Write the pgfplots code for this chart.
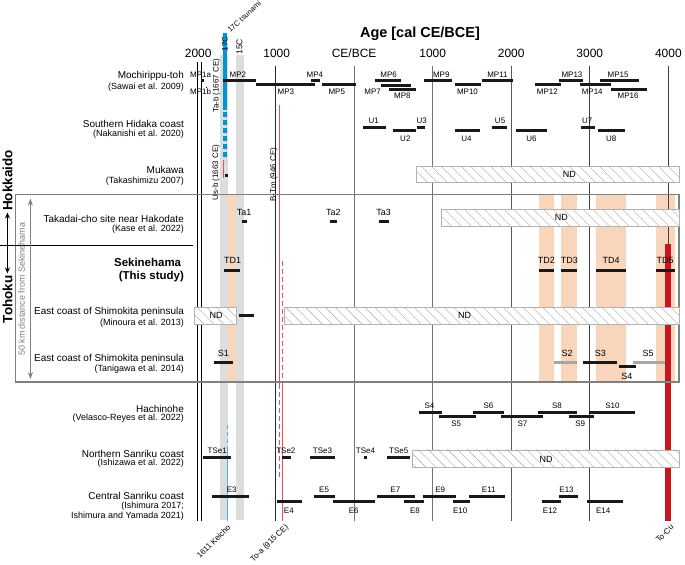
\documentclass[border=0pt]{standalone}
\usepackage{pgfplots}
\pgfplotsset{compat=1.18}
\usepackage{pgfplotstable}
\usepackage{fontspec}
\setmainfont{Liberation Sans}
\usetikzlibrary{patterns.meta,arrows.meta}

\definecolor{peach}{HTML}{F9D5BB}
\definecolor{bandgray}{HTML}{DCDDDD}
\definecolor{tsublue}{HTML}{0096D6}
\definecolor{thinred}{HTML}{E8505B}
\definecolor{tocu}{HTML}{C8161E}

% x: years (CE negative, BCE positive); y: row position from the top
% black event bars: start end row
\pgfplotstableread{
a b y
-1955 -1905 81
-1669 -1254 81
-1250 -500 85
-551 -437 81
-415 20 85
271 601 81
338 719 85.5
440 791 89.5
884 1249 81
1278 1617 85
1630 2027 81
2303 2637 85
2612 2917 81
2878 3272 85
3132 3628 81
3272 3726 89.5
110 401 127.7
490 791 131
795 906 127.7
1287 1596 131
1761 1951 127.7
2062 2455 131
2887 3065 127.7
3100 3446 131
-1644 -1609 175.5
-1432 -1368 221.7
-312 -217 221.7
312 440 221.7
-1653 -1453 270.7
2349 2539 270.7
2633 2837 270.7
3082 3467 270.7
3848 4081 270.7
-1462 -1275 316.7
-1780 -1546 363.3
2907 3352 363.3
3374 3586 367.7
821 1117 413.3
1075 1545 417.3
1519 1904 413.3
1871 2409 417.3
2336 2832 413.3
2730 3056 417.3
2993 3573 413.3
-1919 -1561 459
-916 -809 459
-564 -246 459
122 169 459
423 706 459
-1803 -1343 497.7
-987 -662 502.7
-513 -238 497.7
-263 271 502.7
296 770 497.7
630 884 502.7
875 1291 497.7
1256 1477 502.7
1468 1926 497.7
2392 2633 502.7
2612 2844 497.7
2964 3428 502.7
}\blackbars

\pgfplotstableread{
a b y
2538 2843 363.3
3551 3955 363.3
}\graybars

\tikzset{
  lb/.style={font=\fontsize{8}{9}\selectfont, inner sep=0pt},
  lc/.style={font=\fontsize{9}{10}\selectfont, inner sep=0pt},
  site/.style={font=\fontsize{10}{11}\selectfont, inner sep=0pt, anchor=east},
  cite/.style={font=\fontsize{9}{10}\selectfont, inner sep=0pt, anchor=east},
  nd/.style={draw=gray!60, line width=0.8pt, preaction={fill=white},
    pattern={Lines[angle=-45,distance=7pt,line width=0.4pt]}, pattern color=gray!70},
}

\begin{document}
\begin{tikzpicture}
\begin{axis}[width=685pt, height=566pt, scale only axis,
  xmin=-4502, xmax=4197, ymin=0, ymax=566, y dir=reverse,
  hide axis, clip=false]
\path (axis cs:-4502,0) rectangle (axis cs:4197,566);

% orange bands of the Sekinehama deposits
\addplot[fill=peach, draw=none] coordinates {(-1653,195) (-1453,195) (-1453,382) (-1653,382)} --cycle;
\addplot[fill=peach, draw=none] coordinates {(2349,195) (2539,195) (2539,382) (2349,382)} --cycle;
\addplot[fill=peach, draw=none] coordinates {(2633,195) (2837,195) (2837,382) (2633,382)} --cycle;
\addplot[fill=peach, draw=none] coordinates {(3082,195) (3467,195) (3467,382) (3082,382)} --cycle;
\addplot[fill=peach, draw=none] coordinates {(3848,195) (4081,195) (4081,382) (3848,382)} --cycle;
% 17C and 15C bands
\addplot[fill=bandgray, draw=none] coordinates {(-1707,55) (-1601,55) (-1601,521) (-1707,521)} --cycle;
\addplot[fill=bandgray, draw=none] coordinates {(-1504,55) (-1402,55) (-1402,521) (-1504,521)} --cycle;

% time lines
\addplot[black, line width=0.7pt] coordinates {(-2000,62) (-2000,522)};
\addplot[black, line width=0.7pt] coordinates {(-1950,62) (-1950,522)};
\addplot[black!85, line width=0.7pt] coordinates {(-1000,66) (-1000,522)};
\addplot[black!55, line width=0.8pt] coordinates {(0,66) (0,522)};
\addplot[black!55, line width=0.8pt] coordinates {(1000,66) (1000,522)};
\addplot[black!65, line width=0.8pt] coordinates {(2000,66) (2000,522)};
\addplot[black!75, line width=0.8pt] coordinates {(3000,66) (3000,522)};
\addplot[black!75, line width=0.8pt] coordinates {(4000,66) (4000,522)};

% tephra and tsunami markers
\addplot[tsublue, line width=4.6pt] coordinates {(-1644,33) (-1644,110)};
\addplot[tsublue, line width=4.6pt, dash pattern=on 5pt off 3pt] coordinates {(-1644,112) (-1644,160)};
\addplot[tsublue!70, line width=0.9pt, dash pattern=on 4pt off 3pt] coordinates {(-1611,426) (-1611,447)};
\addplot[tsublue!70, line width=0.9pt] coordinates {(-1611,447) (-1611,522)};
\addplot[thinred, line width=0.9pt] coordinates {(-1663,160) (-1663,178)};
\addplot[thinred, line width=0.9pt] coordinates {(-946,105) (-946,385)};
\addplot[thinred, line width=0.9pt, dash pattern=on 5pt off 3pt] coordinates {(-946,385) (-946,481)};
\addplot[thinred, line width=0.9pt, dash pattern=on 5pt off 3pt] coordinates {(-915,262) (-915,385)};
\addplot[thinred, line width=0.9pt] coordinates {(-915,385) (-915,522)};
\addplot[tocu, line width=6.3pt] coordinates {(3998,245) (3998,522)};

% 50 km box and separator
\addplot[gray, line width=1.3pt] coordinates {(-4311,195) (4136,195) (4136,383) (-4311,383)} --cycle;
\addplot[black, line width=0.9pt] coordinates {(-4502,246) (-2050,246)};

% no-data boxes
\addplot[nd] coordinates {(795,167) (4136,167) (4136,183) (795,183)} --cycle;
\addplot[nd] coordinates {(1109,210) (4136,210) (4136,227) (1109,227)} --cycle;
\addplot[nd] coordinates {(-2038,308) (-1495,308) (-1495,325) (-2038,325)} --cycle;
\addplot[nd] coordinates {(-890,308) (4136,308) (4136,325) (-890,325)} --cycle;
\addplot[nd] coordinates {(736,451) (4136,451) (4136,468) (736,468)} --cycle;

% event bars
\addplot[black!90, line width=3pt, no markers, quiver={u=\thisrow{b}-\thisrow{a}, v=0}] table[x=a, y=y] {\blackbars};
\addplot[gray!70, line width=3pt, no markers, quiver={u=\thisrow{b}-\thisrow{a}, v=0}] table[x=a, y=y] {\graybars};
\addplot[black, line width=1pt] coordinates {(-1890,87.5) (-1868,87.5)};

% title and top labels
\node[font=\bfseries\fontsize{14.5}{16}\selectfont] at (838,34) {Age [cal CE/BCE]};
\node[font=\fontsize{12}{13}\selectfont] at (-1985,53) {2000};
\node[font=\fontsize{12}{13}\selectfont] at (-985,53) {1000};
\node[font=\fontsize{12}{13}\selectfont] at (0,53) {CE/BCE};
\node[font=\fontsize{12}{13}\selectfont] at (1000,53) {1000};
\node[font=\fontsize{12}{13}\selectfont] at (2000,53) {2000};
\node[font=\fontsize{12}{13}\selectfont] at (3000,53) {3000};
\node[font=\fontsize{12}{13}\selectfont] at (4000,53) {4000};
\node[lb, rotate=90] at (-1644,44) {17C};
\node[font=\fontsize{7.5}{8}\selectfont, inner sep=0pt, rotate=42, anchor=west] at (-1600,31) {17C tsunami};
\node[font=\fontsize{8.5}{9}\selectfont, inner sep=0pt, rotate=90] at (-1460,47) {15C};
\node[lb, rotate=90] at (-1751,86) {Ta-b (1667 CE)};
\node[lb, rotate=90] at (-1758,173) {Us-b (1663 CE)};
\node[lb, rotate=90] at (-1022,175) {B-Tm (946 CE)};
\node[lb, rotate=45, anchor=east] at (-1590,527) {1611 Keicho};
\node[lb, rotate=45, anchor=east] at (-850,527) {To-a (915 CE)};
\node[lb, rotate=45, anchor=east] at (4050,527) {To-Cu};

% site names
\node[site] at (-2165,76.5) {Mochirippu-toh};
\node[cite] at (-2165,87.5) {(Sawai et al. 2009)};
\node[site] at (-2165,124) {Southern Hidaka coast};
\node[cite] at (-2165,134) {(Nakanishi et al. 2020)};
\node[site] at (-2165,170.5) {Mukawa};
\node[cite] at (-2165,181.5) {(Takashimizu 2007)};
\node[site] at (-2165,219) {Takadai-cho site near Hakodate};
\node[cite] at (-2165,229.5) {(Kase et al. 2022)};
\node[font=\bfseries\fontsize{11.5}{13}\selectfont, inner sep=0pt, anchor=east] at (-2200,263.5) {Sekinehama};
\node[font=\bfseries\fontsize{11.5}{13}\selectfont, inner sep=0pt, anchor=east] at (-2165,277.5) {(This study)};
\node[site] at (-2165,313) {East coast of Shimokita peninsula};
\node[cite] at (-2165,323.5) {(Minoura et al. 2013)};
\node[site] at (-2165,360) {East coast of Shimokita peninsula};
\node[cite] at (-2165,370.5) {(Tanigawa et al. 2014)};
\node[site] at (-2165,409.5) {Hachinohe};
\node[cite] at (-2165,419) {(Velasco-Reyes et al. 2022)};
\node[site] at (-2165,455) {Northern Sanriku coast};
\node[cite] at (-2165,464.5) {(Ishizawa et al. 2022)};
\node[site] at (-2165,497) {Central Sanriku coast};
\node[cite] at (-2165,507) {(Ishimura 2017;};
\node[cite] at (-2165,517) {Ishimura and Yamada 2021)};

% region labels
\node[font=\bfseries\fontsize{13.5}{14}\selectfont, inner sep=0pt, rotate=90] at (-4413,181) {Hokkaido};
\node[font=\bfseries\fontsize{13.5}{14}\selectfont, inner sep=0pt, rotate=90] at (-4413,300) {Tohoku};
\draw[{Stealth[length=6pt,width=5pt]}-{Stealth[length=6pt,width=5pt]}, line width=1.4pt] (axis cs:-4413,213) -- (axis cs:-4413,274);
\node[font=\fontsize{9}{10}\selectfont, text=gray, inner sep=0pt, rotate=90] at (-4232,290) {50 km distance from Sekinehama};
\draw[gray, {Stealth[length=7pt,width=5pt]}-{Stealth[length=7pt,width=5pt]}, line width=1.4pt] (axis cs:-4121,199) -- (axis cs:-4121,380);

% Mochirippu-toh labels
\node[lb] at (-1955,74.5) {MP1a};
\node[lb] at (-1955,92) {MP1b};
\node[lb] at (-1479,75) {MP2};
\node[lb] at (-869,92) {MP3};
\node[lb] at (-500,75) {MP4};
\node[lb] at (-221,92) {MP5};
\node[lb] at (440,75) {MP6};
\node[lb] at (236,92) {MP7};
\node[lb] at (614,96) {MP8};
\node[lb] at (1109,75) {MP9};
\node[lb] at (1443,92) {MP10};
\node[lb] at (1824,75) {MP11};
\node[lb] at (2459,92) {MP12};
\node[lb] at (2773,75) {MP13};
\node[lb] at (3031,92) {MP14};
\node[lb] at (3361,75) {MP15};
\node[lb] at (3488,96) {MP16};
% Southern Hidaka
\node[lb] at (249,121.5) {U1};
\node[lb] at (652,139) {U2};
\node[lb] at (859,121.5) {U3};
\node[lb] at (1430,139) {U4};
\node[lb] at (1858,121.5) {U5};
\node[lb] at (2256,139) {U6};
\node[lb] at (2967,121.5) {U7};
\node[lb] at (3272,139) {U8};
% ND labels
\node[lc] at (2739,175) {ND};
\node[lc] at (2637,218) {ND};
\node[lc] at (-1758,316.5) {ND};
\node[lc] at (1405,316.5) {ND};
\node[lc] at (2443,460) {ND};
% Takadai and Sekinehama
\node[lc] at (-1399,213.3) {Ta1};
\node[lc] at (-263,213.3) {Ta2};
\node[lc] at (376,213.3) {Ta3};
\node[lc] at (-1546,261) {TD1};
\node[lc] at (2447,261) {TD2};
\node[lc] at (2739,261) {TD3};
\node[lc] at (3272,261) {TD4};
\node[lc] at (3958,261) {TD5};
% Tanigawa
\node[lc] at (-1665,354) {S1};
\node[lc] at (2710,354) {S2};
\node[lc] at (3133,354) {S3};
\node[lc] at (3472,377) {S4};
\node[lc] at (3742,354) {S5};
% Hachinohe
\node[lb] at (960,406.7) {S4};
\node[lb] at (1300,425) {S5};
\node[lb] at (1710,406.7) {S6};
\node[lb] at (2142,425) {S7};
\node[lb] at (2583,406.7) {S8};
\node[lb] at (2878,425) {S9};
\node[lb] at (3289,406.7) {S10};
% Northern Sanriku
\node[lb] at (-1742,452) {TSe1};
\node[lb] at (-869,452) {TSe2};
\node[lb] at (-403,452) {TSe3};
\node[lb] at (144,452) {TSe4};
\node[lb] at (567,452) {TSe5};
% Central Sanriku
\node[lb] at (-1559,491) {E3};
\node[lb] at (-831,511.7) {E4};
\node[lb] at (-382,491) {E5};
\node[lb] at (-5,511.7) {E6};
\node[lb] at (525,491) {E7};
\node[lb] at (774,511.7) {E8};
\node[lb] at (1096,491) {E9};
\node[lb] at (1350,511.7) {E10};
\node[lb] at (1714,491) {E11};
\node[lb] at (2494,511.7) {E12};
\node[lb] at (2704,491) {E13};
\node[lb] at (3171,511.7) {E14};
\end{axis}
\end{tikzpicture}
\end{document}
